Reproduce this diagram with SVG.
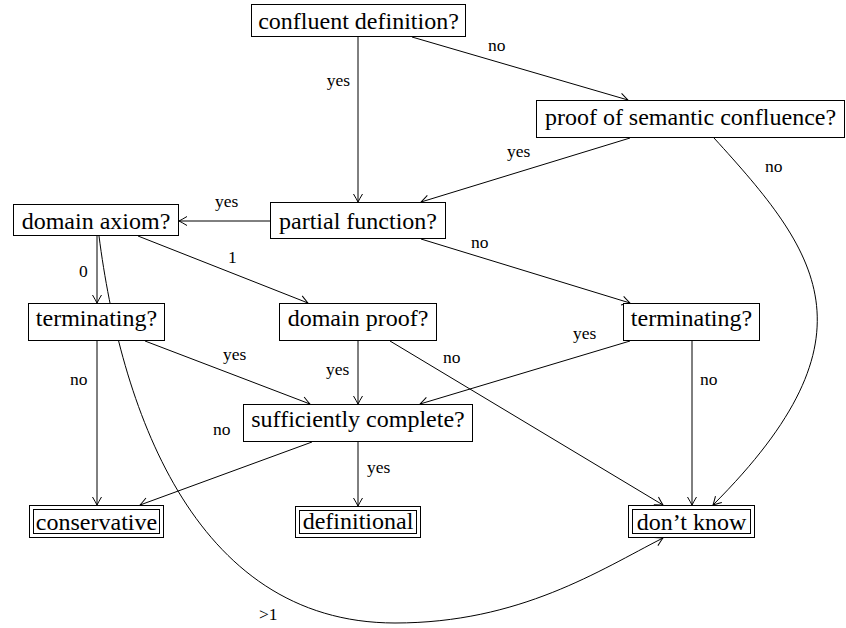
<svg xmlns="http://www.w3.org/2000/svg" width="846" height="628" viewBox="0 0 846 628">
<rect width="846" height="628" fill="#fff"/>
<defs>
<marker id="a" markerUnits="userSpaceOnUse" markerWidth="12" markerHeight="12" viewBox="-10 -6 12 12" refX="0" refY="0" orient="auto">
<path d="M-8,-4.5 Q-2.5,-1.2 0,0 Q-2.5,1.2 -8,4.5" fill="none" stroke="#000" stroke-width="1"/>
</marker>
</defs>
<g id="connectors" fill="none" stroke="#000" stroke-width="1" marker-end="url(#a)">
<path d="M358,37 L358,202"/>
<path d="M412,37 L628,100"/>
<path d="M630,138 L421,202"/>
<path d="M714,138 C817,251 883,335 713,505"/>
<path d="M270,221 L179,221"/>
<path d="M421,239 L630,303"/>
<path d="M97,236 L97,303"/>
<path d="M138,236 L308,303"/>
<path d="M99,236 C120,400 190,623 395,623 C520,623 600,570 663,538"/>
<path d="M97,341 L97,505"/>
<path d="M145,341 L310,404"/>
<path d="M358,341 L358,404"/>
<path d="M390,341 L663,505"/>
<path d="M630,341 L420,404"/>
<path d="M692,341 L692,505"/>
<path d="M312,442 L140,505"/>
<path d="M358,442 L358,506"/>
</g>
<g id="labels">
<text font-family="Liberation Serif" font-size="17.5" x="350" y="86" text-anchor="end">yes</text>
<text font-family="Liberation Serif" font-size="17.5" x="488" y="51">no</text>
<text font-family="Liberation Serif" font-size="17.5" x="507" y="157">yes</text>
<text font-family="Liberation Serif" font-size="17.5" x="765" y="172">no</text>
<text font-family="Liberation Serif" font-size="17.5" x="215" y="207">yes</text>
<text font-family="Liberation Serif" font-size="17.5" x="471" y="248">no</text>
<text font-family="Liberation Serif" font-size="17.5" x="79" y="277">0</text>
<text font-family="Liberation Serif" font-size="17.5" x="228" y="263">1</text>
<text font-family="Liberation Serif" font-size="17.5" x="70" y="385">no</text>
<text font-family="Liberation Serif" font-size="17.5" x="223" y="360">yes</text>
<text font-family="Liberation Serif" font-size="17.5" x="326" y="375">yes</text>
<text font-family="Liberation Serif" font-size="17.5" x="443" y="363">no</text>
<text font-family="Liberation Serif" font-size="17.5" x="573" y="339">yes</text>
<text font-family="Liberation Serif" font-size="17.5" x="700" y="385">no</text>
<text font-family="Liberation Serif" font-size="17.5" x="213" y="435">no</text>
<text font-family="Liberation Serif" font-size="17.5" x="367" y="473">yes</text>
<text font-family="Liberation Serif" font-size="17.5" x="259" y="620">&gt;1</text>
</g>
<g id="confluent">
<rect x="251.5" y="4.5" width="214" height="32" fill="#fff" stroke="#000"/>
<text font-family="Liberation Serif" font-size="24" text-anchor="middle" x="358.5" y="29">confluent definition?</text>
</g>
<g id="semantic">
<rect x="536.5" y="100.5" width="308" height="37" fill="#fff" stroke="#000"/>
<text font-family="Liberation Serif" font-size="24" text-anchor="middle" x="690.5" y="125">proof of semantic confluence?</text>
</g>
<g id="domainaxiom">
<rect x="13.5" y="204.5" width="165" height="31" fill="#fff" stroke="#000"/>
<text font-family="Liberation Serif" font-size="24" text-anchor="middle" x="96" y="229">domain axiom?</text>
</g>
<g id="partial">
<rect x="270.5" y="202.5" width="175" height="36" fill="#fff" stroke="#000"/>
<text font-family="Liberation Serif" font-size="24" text-anchor="middle" x="358" y="229">partial function?</text>
</g>
<g id="termL">
<rect x="28.5" y="303.5" width="136" height="37" fill="#fff" stroke="#000"/>
<text font-family="Liberation Serif" font-size="24" text-anchor="middle" x="96.5" y="326">terminating?</text>
</g>
<g id="domainproof">
<rect x="279.5" y="303.5" width="157" height="37" fill="#fff" stroke="#000"/>
<text font-family="Liberation Serif" font-size="24" text-anchor="middle" x="358" y="326">domain proof?</text>
</g>
<g id="termR">
<rect x="623.5" y="303.5" width="136" height="37" fill="#fff" stroke="#000"/>
<text font-family="Liberation Serif" font-size="24" text-anchor="middle" x="691.5" y="326">terminating?</text>
</g>
<g id="suff">
<rect x="243.5" y="404.5" width="229" height="37" fill="#fff" stroke="#000"/>
<text font-family="Liberation Serif" font-size="24" text-anchor="middle" x="358" y="427">sufficiently complete?</text>
</g>
<g id="conservative">
<rect x="29.5" y="505.5" width="134" height="32" fill="#fff" stroke="#000"/>
<rect x="33.5" y="509.5" width="126" height="24" fill="#fff" stroke="#000"/>
<text font-family="Liberation Serif" font-size="24" text-anchor="middle" x="96.5" y="530">conservative</text>
</g>
<g id="definitional">
<rect x="295.5" y="506.5" width="125" height="31" fill="#fff" stroke="#000"/>
<rect x="299.5" y="510.5" width="117" height="23" fill="#fff" stroke="#000"/>
<text font-family="Liberation Serif" font-size="24" text-anchor="middle" x="358" y="529">definitional</text>
</g>
<g id="dontknow">
<rect x="628.5" y="505.5" width="126" height="32" fill="#fff" stroke="#000"/>
<rect x="632.5" y="509.5" width="118" height="24" fill="#fff" stroke="#000"/>
<text font-family="Liberation Serif" font-size="24" text-anchor="middle" x="691.5" y="530">don&#8217;t know</text>
</g>
</svg>
